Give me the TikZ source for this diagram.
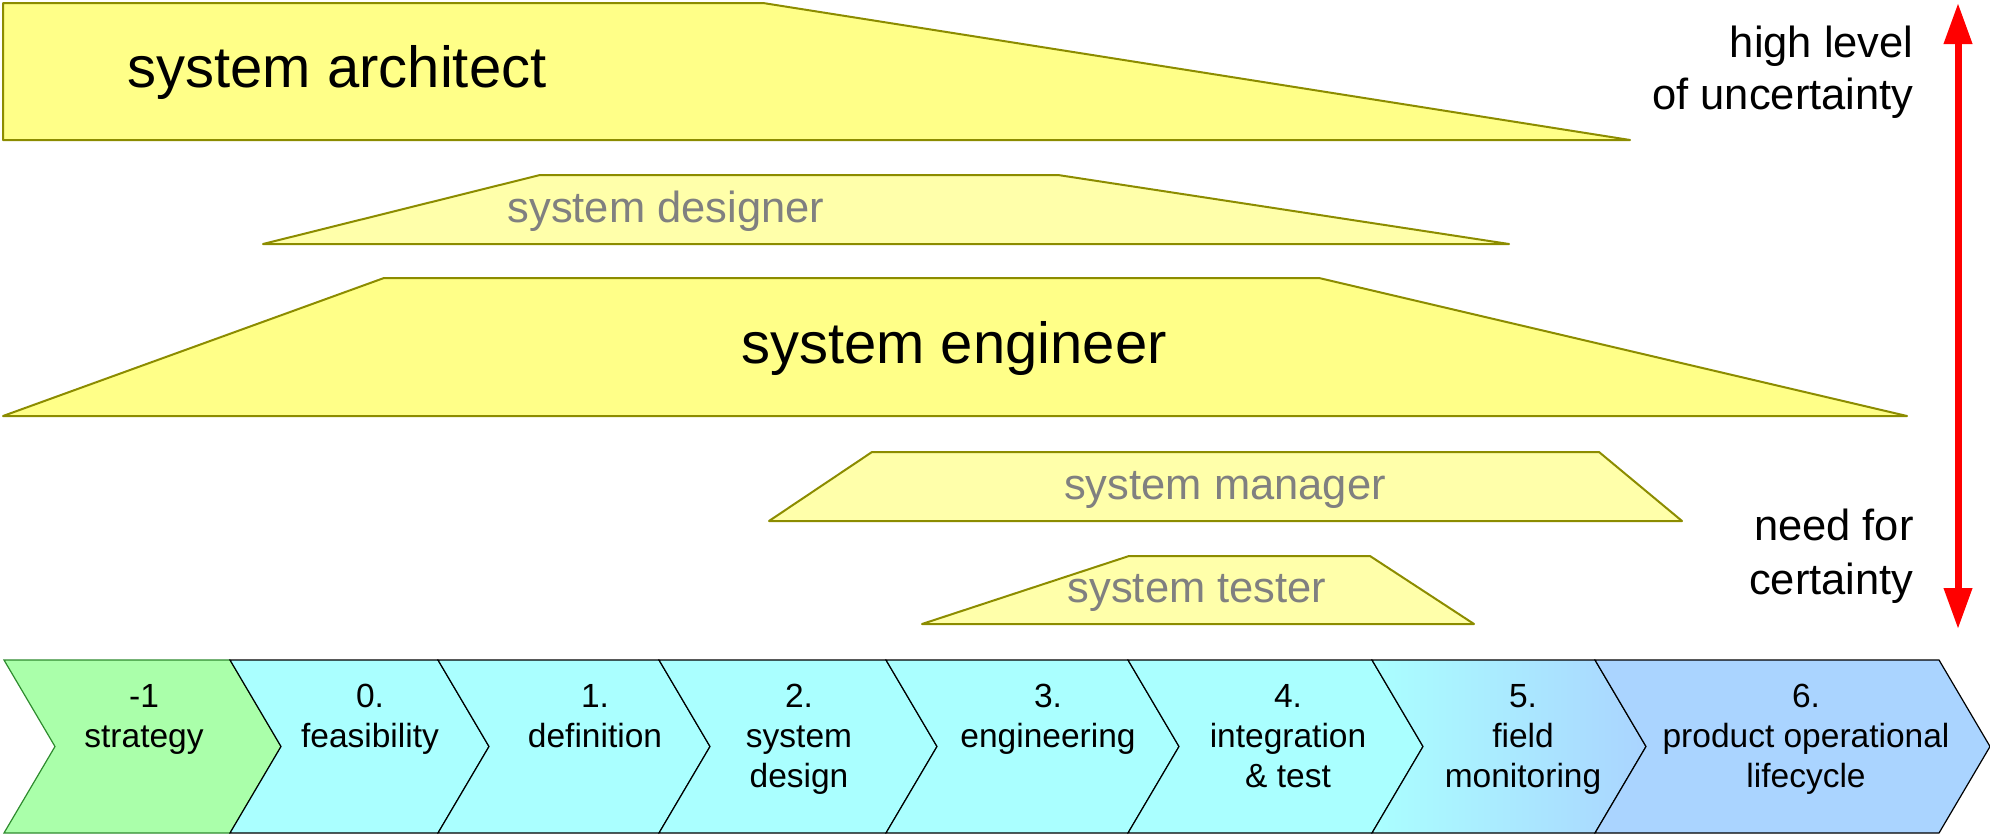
\documentclass[tikz,border=0pt]{standalone}
\usepackage{fontspec}
\setmainfont{Liberation Sans}
\usetikzlibrary{arrows.meta}
\definecolor{archfill}{HTML}{FFFF88}
\definecolor{lightfill}{HTML}{FFFFAA}
\definecolor{trapline}{HTML}{8C8C00}
\definecolor{graytext}{HTML}{808080}
\definecolor{cyanfill}{HTML}{AAFFFF}
\definecolor{bluefill}{HTML}{AAD4FF}
\definecolor{greenfill}{HTML}{AAFFAA}
\definecolor{greenline}{HTML}{2E8B2E}
\tikzset{
  trap/.style={draw=trapline, line width=1pt, line join=round},
  bigtext/.style={font=\fontsize{29}{35}\selectfont, text=black, inner sep=0pt, anchor=base},
  midtext/.style={font=\fontsize{21.75}{26}\selectfont, text=graytext, inner sep=0pt, anchor=base},
  sidetext/.style={font=\fontsize{21.75}{26}\selectfont, text=black, inner sep=0pt, align=right, anchor=north east},
  phase/.style={draw=black, line width=0.6pt, line join=miter, fill=cyanfill},
  phasetext/.style={font=\fontsize{16.75}{20}\selectfont, align=center, anchor=north, inner sep=0pt},
  bigarrow/.style={draw=red, line width=3.5pt, {Triangle[width=13.5pt,length=20.5pt]}-{Triangle[width=13.5pt,length=20.5pt]}}
}
\begin{document}
\begin{tikzpicture}[x=0.5pt,y=-0.5pt]
\useasboundingbox (0,0) rectangle (1990,835);
% role trapezoids
\draw[trap, fill=archfill] (3,3) -- (763,3) -- (1630,140) -- (3,140) -- cycle;
\node[bigtext] (arch) at (337,87) {system architect};
\draw[trap, fill=lightfill] (263,244) -- (540,175) -- (1058,175) -- (1509,244) -- cycle;
\node[midtext] (desig) at (666,222) {system designer};
\draw[trap, fill=archfill] (3,416) -- (384,278) -- (1319,278) -- (1907,416) -- cycle;
\node[bigtext] (engin) at (954,363) {system engineer};
\draw[trap, fill=lightfill] (769,521) -- (872,452) -- (1599,452) -- (1682,521) -- cycle;
\node[midtext] (manag) at (1225,499) {system manager};
\draw[trap, fill=lightfill] (922,624) -- (1129,556) -- (1370,556) -- (1474,624) -- cycle;
\node[midtext] (teste) at (1197,602) {system tester};
% side labels and arrow
\node[sidetext] (high) at (1914,26) {high level\\of uncertainty};
\node[sidetext, font=\fontsize{21.75}{27}\selectfont] (need) at (1914,509) {need for\\certainty};
\coordinate (atop) at (1958,3);
\coordinate (abot) at (1958,629);
\draw[bigarrow] (atop) -- (abot);
% phases
\draw[phase, fill=greenfill, draw=greenline] (4,660) -- (230,660) -- (281,746.5) -- (230,833) -- (4,833) -- (55,746.5) -- cycle;
\draw[phase] (230,660) -- (438,660) -- (489,746.5) -- (438,833) -- (230,833) -- (281,746.5) -- cycle;
\draw[phase] (438,660) -- (659,660) -- (710,746.5) -- (659,833) -- (438,833) -- (489,746.5) -- cycle;
\draw[phase] (659,660) -- (886,660) -- (937,746.5) -- (886,833) -- (659,833) -- (710,746.5) -- cycle;
\draw[phase] (886,660) -- (1128,660) -- (1179,746.5) -- (1128,833) -- (886,833) -- (937,746.5) -- cycle;
\draw[phase] (1128,660) -- (1372,660) -- (1423,746.5) -- (1372,833) -- (1128,833) -- (1179,746.5) -- cycle;
\draw[phase, left color=cyanfill, right color=bluefill] (1372,660) -- (1595,660) -- (1646,746.5) -- (1595,833) -- (1372,833) -- (1423,746.5) -- cycle;
\draw[phase, fill=bluefill] (1595,660) -- (1939,660) -- (1990,746.5) -- (1939,833) -- (1595,833) -- (1646,746.5) -- cycle;
\node[phasetext] (p1) at (144,684) {-1\\strategy};
\node[phasetext] (p2) at (370,684) {0.\\feasibility};
\node[phasetext] (p3) at (595,684) {1.\\definition};
\node[phasetext] (p4) at (799,684) {2.\\system\\design};
\node[phasetext] (p5) at (1048,684) {3.\\engineering};
\node[phasetext] (p6) at (1288,684) {4.\\integration\\\& test};
\node[phasetext] (p7) at (1523,684) {5.\\field\\monitoring};
\node[phasetext] (p8) at (1806,684) {6.\\product operational\\lifecycle};
\end{tikzpicture}
\end{document}
